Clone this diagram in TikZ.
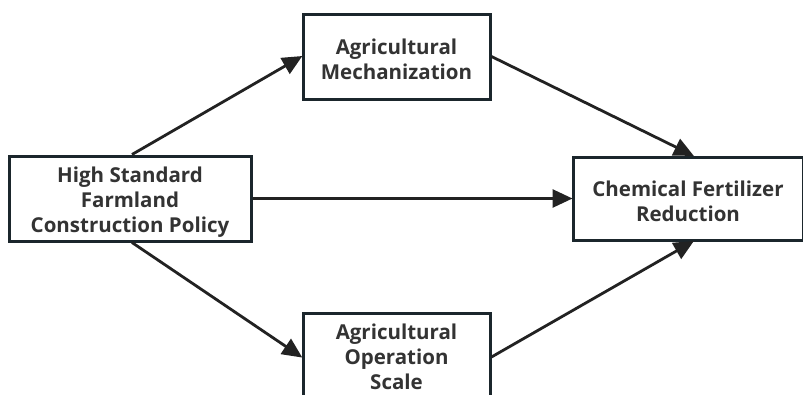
\documentclass[tikz,border=0pt]{standalone}
\usepackage{fontspec}
\setmainfont{Open Sans}[BoldFont={* Bold}]
\usetikzlibrary{arrows.meta}
\definecolor{boxline}{HTML}{1B262C}
\definecolor{arrowcol}{HTML}{222222}
\definecolor{txt}{HTML}{333333}
\newcommand{\myfirststrut}{\rule{0pt}{22pt}}
\tikzset{
  box/.style={draw=boxline, line width=3pt, fill=white, align=center, inner sep=0pt,
    text=txt, font=\bfseries\fontsize{20.5}{25}\selectfont},
  conn/.style={draw=arrowcol, line width=2.8pt, -{Triangle[length=20pt,width=18pt]}, shorten >=-1pt}
}
\begin{document}
\begin{tikzpicture}[x=1pt,y=-1pt]
\useasboundingbox (0,0) rectangle (803,394);
\fill[white] (0,0) rectangle (803,394);
\clip (0,0) rectangle (803,394);
\node[box, minimum width=242pt, minimum height=85pt] (L) at (130,198.5) {\myfirststrut High Standard\\Farmland\\Construction Policy};
\node[box, minimum width=187pt, minimum height=85pt] (T) at (396.5,56.5) {\myfirststrut Agricultural\\Mechanization};
\node[box, minimum width=187pt, minimum height=88pt] (B) at (396.5,357) {Agricultural\\Operation\\Scale};
\node[box, minimum width=230pt, minimum height=83pt] (R) at (688,198.5) {\myfirststrut Chemical Fertilizer\\Reduction};
\draw[conn] ([xshift=2pt]L.north) -- (T.west);
\draw[conn] (T.east) -- ([xshift=5pt]R.north);
\draw[conn] (L.east) -- (R.west);
\draw[conn] ([xshift=2pt]L.south) -- (B.west);
\draw[conn] (B.east) -- ([xshift=5pt]R.south);
\end{tikzpicture}
\end{document}
